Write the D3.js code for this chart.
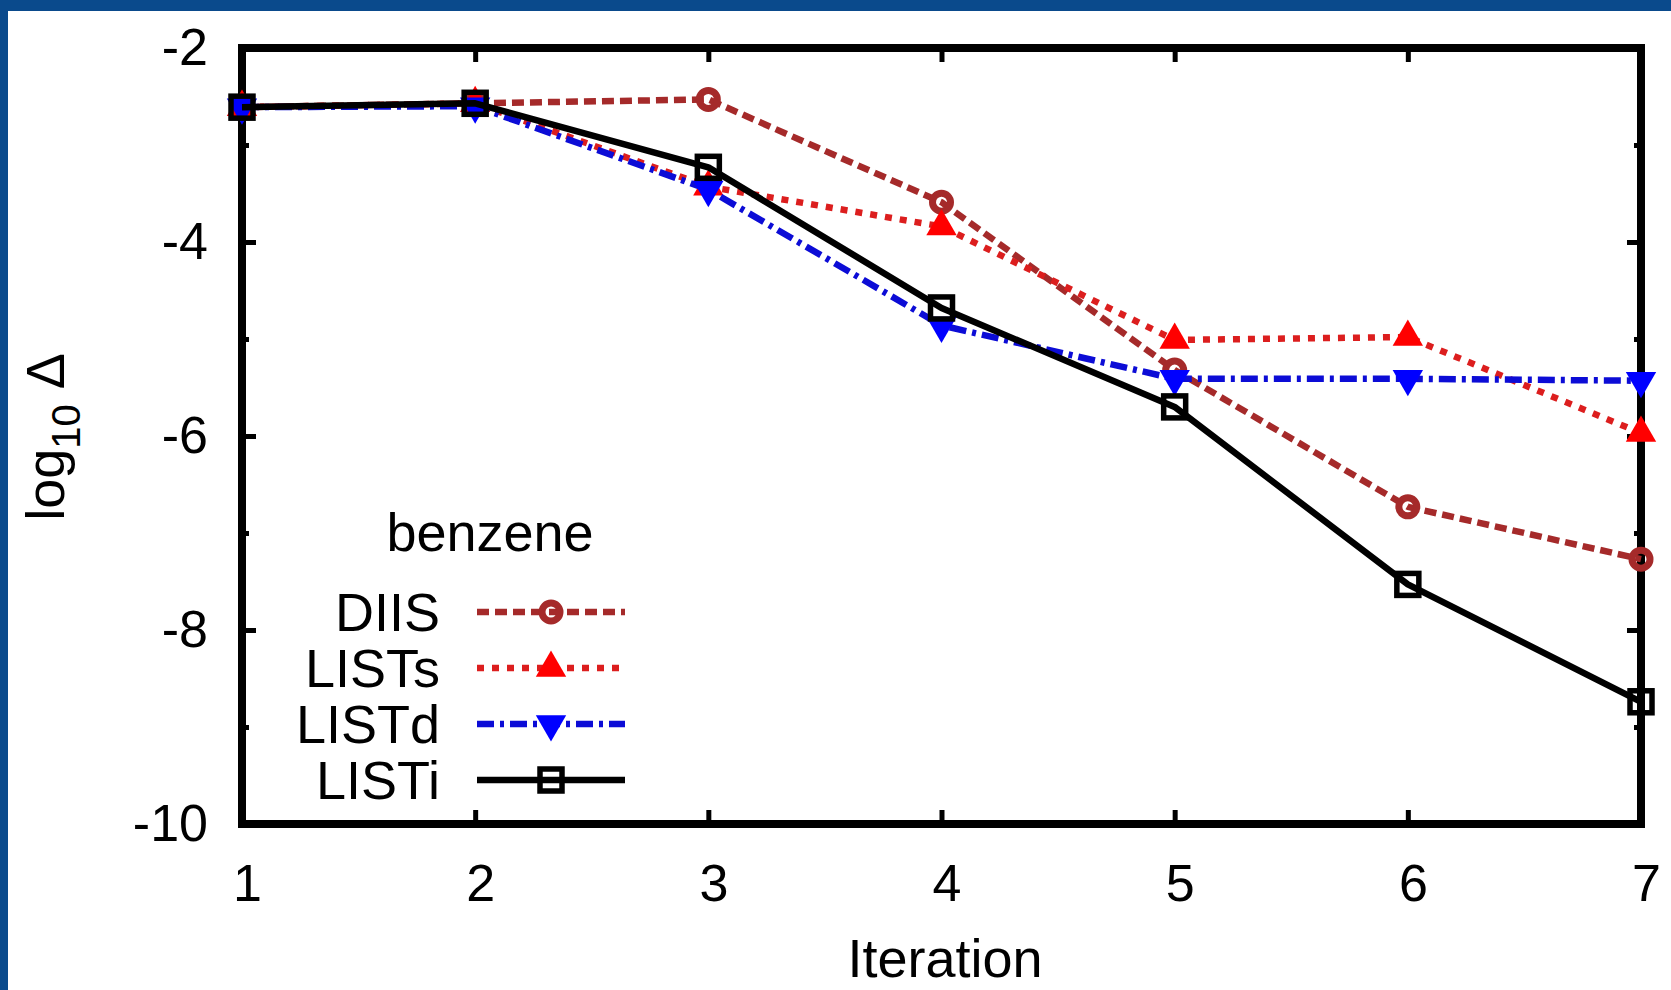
<!DOCTYPE html>
<html>
<head>
<meta charset="utf-8">
<script src="https://cdn.jsdelivr.net/npm/d3@7"></script>
<style>
  html, body { margin: 0; padding: 0; background: #ffffff; }
  svg { display: block; }
  text { font-family: "Liberation Sans", Arial, Helvetica, sans-serif; fill: #000; }
</style>
</head>
<body>
<script>
// Convergence of the SCF error (log10 of the DIIS error) per iteration, benzene
const iterations = [1, 2, 3, 4, 5, 6, 7];
const diisValues  = [-2.61, -2.57, -2.53, -3.59, -5.32, -6.73, -7.27];
const listsValues = [-2.61, -2.57, -3.43, -3.84, -5.01, -4.98, -5.97];
const listdValues = [-2.61, -2.60, -3.46, -4.86, -5.41, -5.41, -5.43];
const listiValues = [-2.61, -2.57, -3.23, -4.68, -5.70, -7.53, -8.74];
const seriesNames = ["DIIS", "LISTs", "LISTd", "LISTi"];
const xTickValues = [1, 2, 3, 4, 5, 6, 7];
const yTickValues = [-2, -4, -6, -8, -10];
const yMinorTickValues = [-3, -5, -7, -9];
const legendTitle = "benzene";
const xTitle = "Iteration";

const W = 1671, H = 990;
const plot = { left: 242, right: 1641, top: 48, bottom: 824 };

const svg = d3.select("body").append("svg")
  .attr("width", W).attr("height", H);

// page frame: blue band on the top and left edges
svg.append("rect").attr("x", 0).attr("y", 0).attr("width", W).attr("height", H).attr("fill", "#ffffff");
svg.append("rect").attr("x", 0).attr("y", 0).attr("width", W).attr("height", 11).attr("fill", "#0a4a8c");
svg.append("rect").attr("x", 0).attr("y", 0).attr("width", 8).attr("height", H).attr("fill", "#0a4a8c");

const x = d3.scaleLinear().domain([1, 7]).range([plot.left, plot.right]);
const y = d3.scaleLinear().domain([-10, -2]).range([plot.bottom, plot.top]);

const TICK = 14, MINOR = 7, TICK_W = 5;
const plainNumber = d => String(d);   // ASCII hyphen for negatives

function styleAxis(g) {
  g.select(".domain").remove();
  g.selectAll(".tick line").attr("stroke", "#000").attr("stroke-width", TICK_W);
  g.selectAll(".tick text")
    .style("font-family", '"Liberation Sans", Arial, Helvetica, sans-serif')
    .style("font-size", "52px").attr("fill", "#000");
}

// bottom axis with labels, inward ticks
svg.append("g").attr("transform", `translate(0,${plot.bottom})`)
  .call(d3.axisBottom(x).tickValues(xTickValues).tickSize(-TICK).tickPadding(40).tickFormat(plainNumber))
  .call(styleAxis)
  .call(g => g.selectAll(".tick text").attr("dx", 5));
// top mirror ticks
svg.append("g").attr("transform", `translate(0,${plot.top})`)
  .call(d3.axisTop(x).tickValues(xTickValues).tickSize(-TICK).tickFormat(""))
  .call(styleAxis);
// left axis with labels
svg.append("g").attr("transform", `translate(${plot.left},0)`)
  .call(d3.axisLeft(y).tickValues(yTickValues).tickSize(-TICK).tickPadding(34).tickFormat(plainNumber))
  .call(styleAxis);
svg.append("g").attr("transform", `translate(${plot.left},0)`)
  .call(d3.axisLeft(y).tickValues(yMinorTickValues).tickSize(-MINOR).tickFormat(""))
  .call(styleAxis);
// right mirror ticks
svg.append("g").attr("transform", `translate(${plot.right},0)`)
  .call(d3.axisRight(y).tickValues(yTickValues).tickSize(-TICK).tickFormat(""))
  .call(styleAxis);
svg.append("g").attr("transform", `translate(${plot.right},0)`)
  .call(d3.axisRight(y).tickValues(yMinorTickValues).tickSize(-MINOR).tickFormat(""))
  .call(styleAxis);

// plot border
svg.append("rect")
  .attr("x", plot.left).attr("y", plot.top)
  .attr("width", plot.right - plot.left).attr("height", plot.bottom - plot.top)
  .attr("fill", "none").attr("stroke", "#000").attr("stroke-width", 8);

// series styles
const styles = {
  DIIS:  { line: "#a52a2a", mark: "#a52a2a", dash: "12,6",        marker: "circle" },
  LISTs: { line: "#dc1e1e", mark: "#ff0000", dash: "7,8",         marker: "triUp" },
  LISTd: { line: "#0c0cd6", mark: "#0000ff", dash: "17,6,4,6",    marker: "triDown" },
  LISTi: { line: "#000000", mark: "#000000", dash: null,          marker: "square" }
};

const series = [
  { name: seriesNames[0], values: diisValues },
  { name: seriesNames[1], values: listsValues },
  { name: seriesNames[2], values: listdValues },
  { name: seriesNames[3], values: listiValues }
];

const line = d3.line().x(d => x(d[0])).y(d => y(d[1]));

function drawMarker(g, type, color, cx, cy) {
  if (type === "circle") {
    g.append("circle").attr("cx", cx).attr("cy", cy).attr("r", 9)
      .attr("fill", "none").attr("stroke", color).attr("stroke-width", 7);
  } else if (type === "square") {
    g.append("rect").attr("x", cx - 11).attr("y", cy - 11).attr("width", 22).attr("height", 22)
      .attr("fill", "none").attr("stroke", color).attr("stroke-width", 5.5);
  } else {
    const sym = d3.symbol().type(d3.symbolTriangle).size(400);
    g.append("path").attr("d", sym())
      .attr("transform", `translate(${cx},${cy})` + (type === "triDown" ? " rotate(180)" : ""))
      .attr("fill", color);
  }
}

series.forEach(s => {
  const st = styles[s.name];
  const pts = iterations.map((it, i) => [it, s.values[i]]);
  const g = svg.append("g").attr("class", "series");
  g.append("path").datum(pts).attr("d", line)
    .attr("fill", "none").attr("stroke", st.line).attr("stroke-width", 6.5)
    .attr("stroke-dasharray", st.dash).attr("stroke-linejoin", "round");
  pts.forEach(p => drawMarker(g, st.marker, st.mark, x(p[0]), y(p[1])));
});

// legend
const leg = svg.append("g");
leg.append("text").attr("x", 490).attr("y", 551).attr("text-anchor", "middle")
  .style("font-size", "54px").text(legendTitle);
const rowY = [612, 668, 724, 780];
series.forEach((s, i) => {
  const st = styles[s.name];
  const yy = rowY[i];
  leg.append("text").attr("x", 440).attr("y", yy + 19).attr("text-anchor", "end")
    .style("font-size", "54px").text(s.name);
  leg.append("line").attr("x1", 477).attr("x2", 625).attr("y1", yy).attr("y2", yy)
    .attr("stroke", st.line).attr("stroke-width", 6.5).attr("stroke-dasharray", st.dash);
  drawMarker(leg, st.marker, st.mark, 551, yy);
});

// axis titles
svg.append("text").attr("x", 945).attr("y", 977).attr("text-anchor", "middle")
  .style("font-size", "54px").text(xTitle);

const yTitle = svg.append("text")
  .attr("transform", "translate(64,437) rotate(-90)")
  .attr("text-anchor", "middle").style("font-size", "54px");
yTitle.append("tspan").text("log");
yTitle.append("tspan").attr("dy", 16).style("font-size", "40px").text("10");
yTitle.append("tspan").attr("dy", -16).text(" \u0394");
</script>
</body>
</html>
